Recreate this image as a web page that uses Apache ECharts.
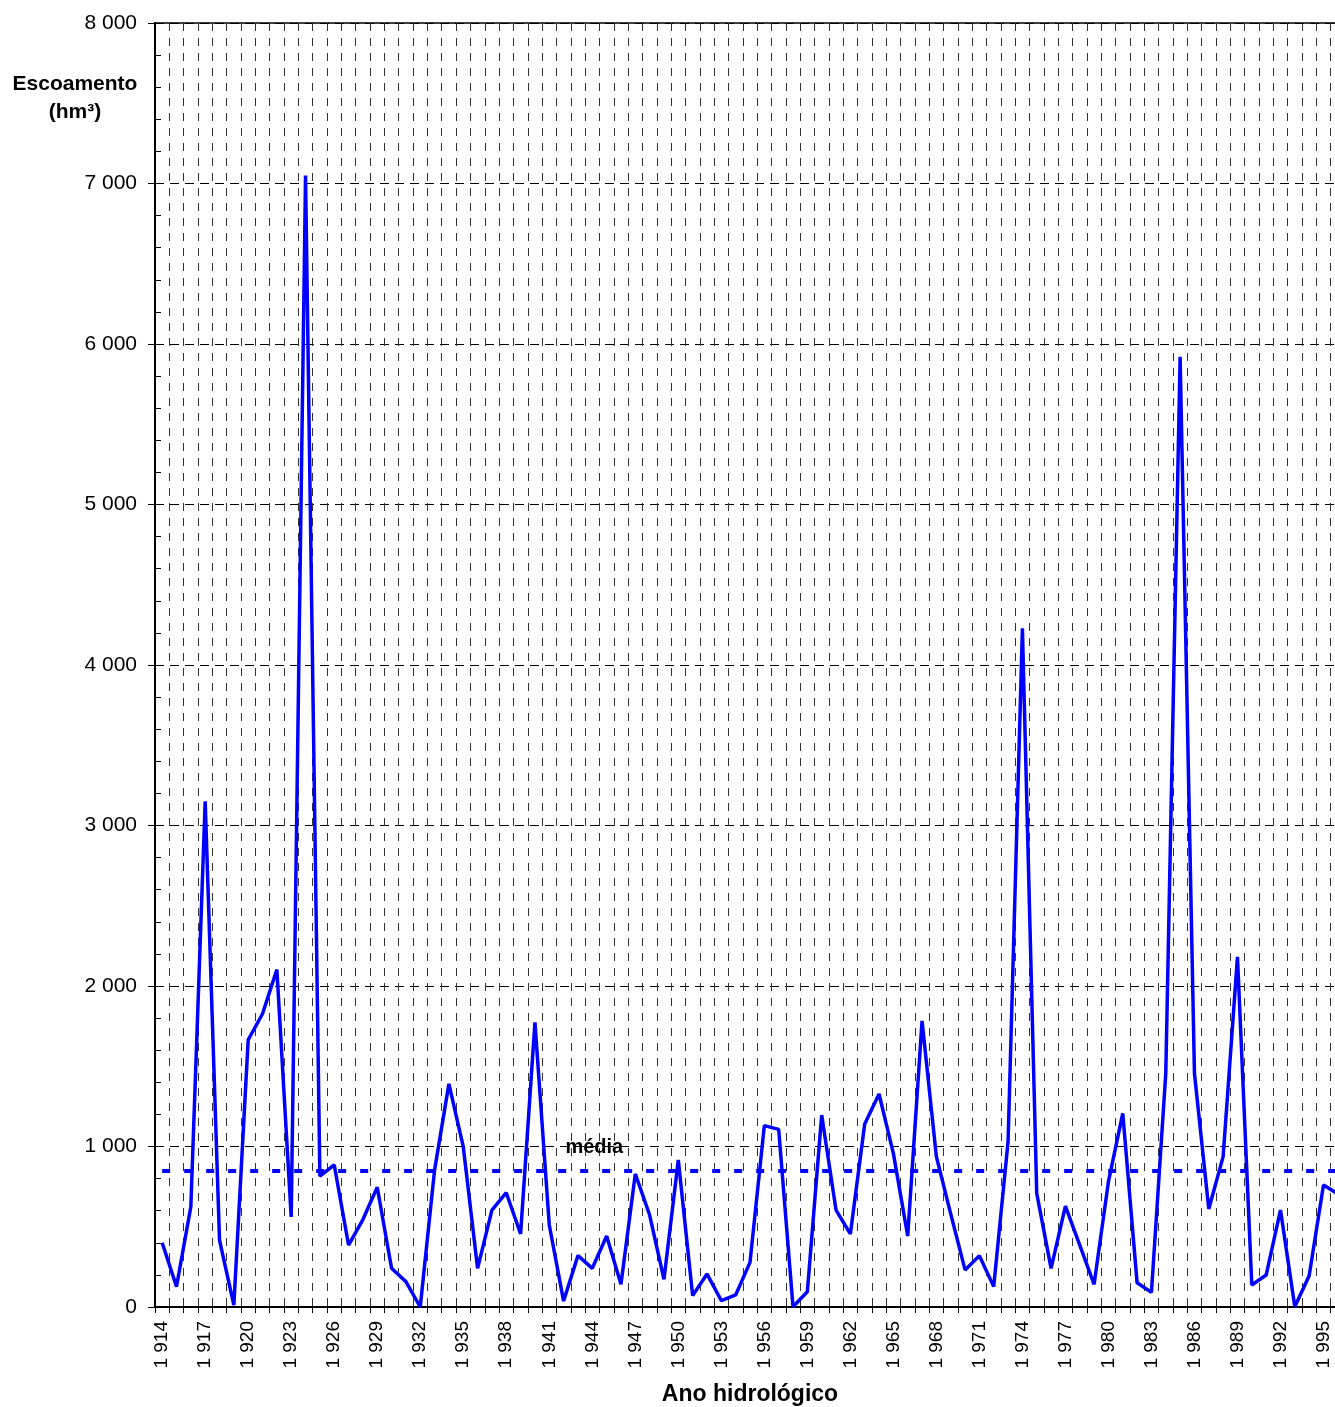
<!DOCTYPE html>
<html>
<head>
<meta charset="utf-8">
<title>Escoamento anual</title>
<script src="https://cdn.jsdelivr.net/npm/echarts@6/dist/echarts.min.js"></script>
<style>
  html, body { margin: 0; padding: 0; background: #fff; overflow: hidden; }
  #chartContainer { width: 1335px; height: 1407px; }
</style>
</head>
<body>
<div id="chartContainer"></div>
<script>
// dados (anos hidrológicos e escoamento em hm³)
const years = [
  '1914', '1915', '1916', '1917', '1918', '1919', '1920', '1921', '1922', '1923',
  '1924', '1925', '1926', '1927', '1928', '1929', '1930', '1931', '1932', '1933',
  '1934', '1935', '1936', '1937', '1938', '1939', '1940', '1941', '1942', '1943',
  '1944', '1945', '1946', '1947', '1948', '1949', '1950', '1951', '1952', '1953',
  '1954', '1955', '1956', '1957', '1958', '1959', '1960', '1961', '1962', '1963',
  '1964', '1965', '1966', '1967', '1968', '1969', '1970', '1971', '1972', '1973',
  '1974', '1975', '1976', '1977', '1978', '1979', '1980', '1981', '1982', '1983',
  '1984', '1985', '1986', '1987', '1988', '1989', '1990', '1991', '1992', '1993',
  '1994', '1995', '1996'
];
const escoamento = [
  400, 127, 625, 3150, 417, 12, 1664, 1827, 2102, 561,
  7050, 815, 886, 386, 545, 746, 241, 158, 0, 853,
  1390, 999, 241, 604, 712, 455, 1773, 511, 37, 320,
  241, 442, 141, 829, 573, 172, 916, 71, 206, 40,
  75, 278, 1130, 1107, 2, 95, 1196, 604, 455, 1140,
  1327, 957, 442, 1783, 937, 580, 231, 320, 127, 1030,
  4229, 708, 241, 629, 386, 141, 781, 1207, 151, 91,
  1455, 5920, 1455, 611, 937, 2182, 137, 199, 604, 2,
  195, 760, 705
];
const media = 850;
const mediaLabelYear = '1944';
const yTicks = { min: 0, max: 8000, interval: 1000 };

const fontFamily = '"Liberation Sans", Arial, sans-serif';

function fmtThousands(v) {
  return String(v).replace(/\B(?=(\d{3})+(?!\d))/g, ' ');
}

const chart = echarts.init(document.getElementById('chartContainer'), null, { renderer: 'canvas' });

chart.setOption({
  animation: false,
  backgroundColor: '#fff',
  grid: {
    left: 155, top: 23, right: -10, bottom: 100,
    containLabel: false,
    outerBoundsMode: 'none',
    show: true, borderColor: '#000', borderWidth: 1.5, backgroundColor: 'transparent'
  },
  graphic: [{
    type: 'text',
    x: 75, y: 84,
    style: {
      text: 'Escoamento',
      font: 'bold 21px ' + fontFamily,
      fill: '#000',
      align: 'center',
      verticalAlign: 'middle'
    }
  }, {
    type: 'text',
    x: 75, y: 112,
    style: {
      text: '(hm³)',
      font: 'bold 21px ' + fontFamily,
      fill: '#000',
      align: 'center',
      verticalAlign: 'middle'
    }
  }],
  xAxis: {
    type: 'category',
    data: years,
    boundaryGap: true,
    name: 'Ano hidrológico',
    nameLocation: 'middle',
    nameGap: 76,
    nameTextStyle: { fontFamily: fontFamily, fontWeight: 'bold', fontSize: 23, color: '#000' },
    axisLine: { lineStyle: { color: '#000', width: 2 } },
    axisTick: { show: true, interval: 0, length: 6, lineStyle: { color: '#000' } },
    axisLabel: {
      interval: 2, rotate: 90, margin: 14,
      fontFamily: fontFamily, fontSize: 19, color: '#000',
      formatter: v => fmtThousands(v)
    },
    splitLine: { show: true, interval: 0, lineStyle: { color: '#333', width: 1, type: [8, 7] } }
  },
  yAxis: [{
    type: 'value',
    min: yTicks.min, max: yTicks.max, interval: yTicks.interval,
    axisLine: { show: true, lineStyle: { color: '#000', width: 2 } },
    axisTick: { show: true, inside: true, length: 6, lineStyle: { color: '#000' } },
    minorTick: { show: true, splitNumber: 5, length: 6, lineStyle: { color: '#000' } },
    axisLabel: {
      margin: 18, fontFamily: fontFamily, fontSize: 21, color: '#000',
      formatter: v => fmtThousands(v)
    },
    splitLine: { show: true, lineStyle: { color: '#000', width: 1, type: [9, 6] } }
  }, {
    // só para os traços maiores para fora do eixo
    type: 'value', position: 'left',
    min: yTicks.min, max: yTicks.max, interval: yTicks.interval,
    axisLine: { show: false },
    axisTick: { show: true, inside: false, length: 7, lineStyle: { color: '#000' } },
    axisLabel: { show: false },
    splitLine: { show: false }
  }],
  series: [{
    name: 'Escoamento',
    type: 'line',
    data: escoamento,
    showSymbol: false,
    symbol: 'none',
    lineStyle: { color: '#0000ff', width: 3.5 },
    itemStyle: { color: '#0000ff' },
    z: 5,
    markLine: {
      silent: true,
      symbol: ['none', 'none'],
      lineStyle: { color: '#0000ff', width: 4, type: [8, 14] },
      label: { show: false },
      data: [[
        { coord: [years[0], media] },
        { coord: [years[years.length - 1], media] }
      ]]
    },
    markPoint: {
      silent: true,
      symbol: 'circle',
      symbolSize: 1,
      itemStyle: { color: 'rgba(0,0,0,0)' },
      label: {
        show: true, position: 'inside', offset: [2, -23],
        formatter: 'média',
        fontFamily: fontFamily, fontWeight: 'bold', fontSize: 20, color: '#000'
      },
      data: [{ coord: [mediaLabelYear, media] }]
    }
  }]
});
</script>
</body>
</html>
